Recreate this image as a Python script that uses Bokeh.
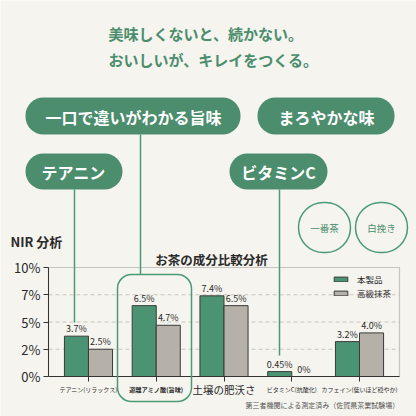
from bokeh.plotting import figure
from bokeh.models import (Label, BoxAnnotation, Arrow, FixedTicker, ColumnDataSource,
                          Range1d, LinearAxis)
from bokeh.core.properties import value
from bokeh.embed import file_html
from bokeh.resources import INLINE

# ---- data -------------------------------------------------------------
categories = ["テアニン(リラックス)", "遊離アミノ酸(旨味)", "土壌の肥沃さ",
              "ビタミンC(抗酸化)", "カフェイン(低いほど穏やか)"]
product = [3.7, 6.5, 7.4, 0.45, 3.2]
matcha = [2.5, 4.7, 6.5, 0.0, 4.0]
product_labels = ["3.7%", "6.5%", "7.4%", "0.45%", "3.2%"]
matcha_labels = ["2.5%", "4.7%", "6.5%", "0%", "4.0%"]
series_names = ["本製品", "高級抹茶"]
y_ticks = [0, 2.5, 5, 7.5, 10]
y_tick_labels = ["0%", "2%", "5%", "7%", "10%"]

# ---- style ------------------------------------------------------------
BG = "#f5f4ee"
PILL = "#4b8d6d"
LINE_GREEN = "#4a9a76"
BAR_GREEN = "#4a9474"
BAR_GRAY = "#b5b1a8"
DARK = "#2a2a2a"
JP = "Noto Sans CJK JP"

# chart box inside the 416px canvas (pixels)
W = H = 416
BOX_L, BOX_R, BOX_T, BOX_B = 48, 399, 267, 376
X_LO, X_HI = -0.59, 4.59
Y_LO, Y_HI = y_ticks[0], y_ticks[-1]
sx = (BOX_R - BOX_L) / (X_HI - X_LO)
sy = (BOX_B - BOX_T) / (Y_HI - Y_LO)
x_range = Range1d(X_LO - BOX_L / sx, X_HI + (W - BOX_R) / sx)
y_range = Range1d(Y_LO - (H - BOX_B) / sy, Y_HI + BOX_T / sy)

idx = list(range(len(categories)))
bw = 0.355
src = ColumnDataSource(dict(
    x1=[i - bw / 2 for i in idx], x2=[i + bw / 2 for i in idx],
    product=product, matcha=matcha,
    plab=product_labels, mlab=matcha_labels,
))

p = figure(width=W, height=H, x_range=x_range, y_range=y_range,
           output_backend="svg", toolbar_location=None,
           x_axis_location=None, y_axis_location=None,
           min_border=0, background_fill_color=BG, border_fill_color=BG)
p.outline_line_color = None
p.grid.visible = False

# dashed guide lines
grid_levels = y_ticks[1:-1]
p.segment(x0=[X_LO] * len(grid_levels), x1=[X_HI] * len(grid_levels),
          y0=grid_levels, y1=grid_levels, line_color="#c8c6bf", line_dash="4 3",
          line_width=1)

# chart frame
p.add_layout(BoxAnnotation(left=X_LO, right=X_HI, bottom=Y_LO, top=Y_HI,
                           fill_alpha=0, line_color="#555555", line_width=1.2,
                           level="underlay"))

p.vbar(x="x1", top="product", width=bw, source=src, fill_color=BAR_GREEN,
       line_color="#3a3a3a", line_width=1, legend_label=series_names[0])
p.vbar(x="x2", top="matcha", width=bw, source=src, fill_color=BAR_GRAY,
       line_color="#3a3a3a", line_width=1, legend_label=series_names[1])

p.text(x="x1", y="product", text="plab", source=src, text_align="center",
       text_baseline="bottom", y_offset=-1, text_font=value(JP),
       text_font_size="9px", text_color=DARK)
p.text(x="x2", y="matcha", text="mlab", source=src, text_align="center",
       text_baseline="bottom", y_offset=-1, text_font=value(JP),
       text_font_size="9px", text_color=DARK)

# axes pinned to the chart box
yax = LinearAxis(fixed_location=X_LO, bounds=(Y_LO, Y_HI),
                 ticker=FixedTicker(ticks=y_ticks, minor_ticks=[]))
yax.major_label_overrides = {t: l for t, l in zip(y_ticks, y_tick_labels)}
yax.major_label_text_font = JP
yax.major_label_text_font_size = "13px"
yax.major_label_text_color = DARK
yax.major_tick_out = 5
yax.major_tick_in = 0
yax.major_label_standoff = 3
xax = LinearAxis(fixed_location=Y_LO, bounds=(X_LO, X_HI),
                 ticker=FixedTicker(ticks=idx, minor_ticks=[]))
xax.major_label_overrides = {i: "" for i in idx}
xax.major_tick_out = 5
xax.major_tick_in = 0
for ax in (xax, yax):
    ax.axis_line_color = "#333333"
    ax.major_tick_line_color = "#333333"
p.add_layout(yax, "left")
p.add_layout(xax, "below")

# legend
lg = p.legend[0]
lg.location = (330, 115)
lg.background_fill_alpha = 0
lg.border_line_alpha = 0
lg.label_text_font = JP
lg.label_text_font_size = "8.5px"
lg.label_text_color = DARK
lg.glyph_width = 17
lg.glyph_height = 6
lg.spacing = 2
lg.padding = 2
lg.margin = 0
lg.label_standoff = 8
lg.label_height = 12

# category labels under the axis
cat_sizes = ["6px", "6.2px", "10.5px", "6px", "6px"]
cat_styles = ["normal", "bold", "normal", "normal", "normal"]
for i, (c, s, st) in enumerate(zip(categories, cat_sizes, cat_styles)):
    p.add_layout(Label(x=i, y=389, x_units="data", y_units="canvas", text=c,
                       text_align="center", text_baseline="middle",
                       text_font=JP, text_font_size=s, text_font_style=st,
                       text_color=DARK))


def canvas_label(x, y, text, size, color, style="normal", align="left"):
    p.add_layout(Label(x=x, y=y, x_units="canvas", y_units="canvas", text=text,
                       text_align=align, text_baseline="middle", text_font=JP,
                       text_font_size=size, text_font_style=style, text_color=color))


def box(l, r, t, b, radius, fill=None, line=None, lw=1.5):
    p.add_layout(BoxAnnotation(left=l, right=r, top=t, bottom=b,
                               left_units="canvas", right_units="canvas",
                               top_units="canvas", bottom_units="canvas",
                               border_radius=radius,
                               fill_color=fill or BG, fill_alpha=1 if fill else 0,
                               line_color=line or BG, line_alpha=1 if line else 0,
                               line_width=lw))


def vline(x, y0, y1):
    p.add_layout(Arrow(x_start=x, y_start=y0, x_end=x, y_end=y1,
                       start_units="canvas", end_units="canvas", end=None,
                       line_color=LINE_GREEN, line_width=1.5))


# headline
canvas_label(108, 33, "美味しくないと、続かない。", "15px", PILL, "bold")
canvas_label(108, 59, "おいしいが、キレイをつくる。", "15px", PILL, "bold")

# connector lines
vline(74, 189, 322)
vline(140, 134, 274)
vline(279, 189, 355)

# pills
box(25, 240, 97, 134, 18, fill=PILL)
box(257, 394, 97, 134, 18, fill=PILL)
box(25, 122, 153, 189, 18, fill=PILL)
box(229, 327, 153, 189, 18, fill=PILL)
canvas_label(133, 116, "一口で違いがわかる旨味", "16px", "white", "bold", "center")
canvas_label(326, 116, "まろやかな味", "16px", "white", "bold", "center")
canvas_label(73, 171, "テアニン", "16px", "white", "bold", "center")
canvas_label(278, 171, "ビタミンC", "16px", "white", "bold", "center")

# round badges
box(298, 350, 202, 252, 26, line=LINE_GREEN)
box(355, 407, 202, 252, 26, line=LINE_GREEN)
canvas_label(324, 227, "一番茶", "9.5px", PILL, "normal", "center")
canvas_label(381, 227, "白挽き", "9.5px", PILL, "normal", "center")

# highlight around the umami group
box(117, 191, 274, 401, 14, line=LINE_GREEN)

# titles and note
canvas_label(10, 241, "NIR 分析", "13px", DARK, "bold")
canvas_label(211, 259, "お茶の成分比較分析", "12.5px", DARK, "bold", "center")
canvas_label(399, 404, "第三者機関による測定済み（佐賀県茶業試験場）", "7px", "#555555",
             "normal", "right")

open("out.html", "w").write(file_html(p, INLINE))
